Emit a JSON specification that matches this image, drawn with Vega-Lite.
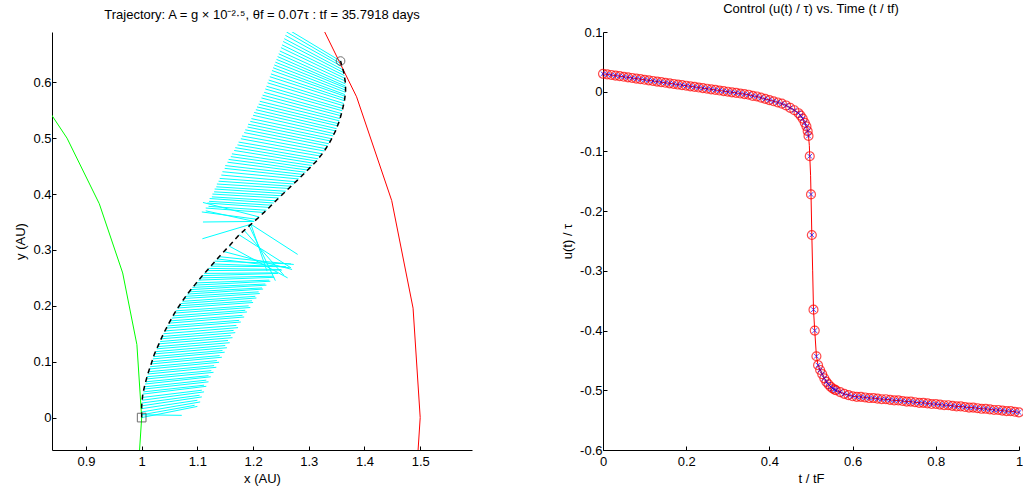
{
  "$schema": "https://vega.github.io/schema/vega-lite/v6.json",
  "padding": {"left": 14, "top": 3, "right": 2, "bottom": 5},
  "spacing": 131,
  "bounds": "flush",
  "datasets": {
    "orbits": [
      {"s": "earth", "i": 0, "x": 0.7071, "y": 0.7071},
      {"s": "earth", "i": 1, "x": 0.7934, "y": 0.6088},
      {"s": "earth", "i": 2, "x": 0.866, "y": 0.5},
      {"s": "earth", "i": 3, "x": 0.9239, "y": 0.3827},
      {"s": "earth", "i": 4, "x": 0.9659, "y": 0.2588},
      {"s": "earth", "i": 5, "x": 0.9914, "y": 0.1305},
      {"s": "earth", "i": 6, "x": 1.0, "y": 0.0},
      {"s": "earth", "i": 7, "x": 0.9914, "y": -0.1305},
      {"s": "mars", "i": 0, "x": 1.1901, "y": 0.9132},
      {"s": "mars", "i": 1, "x": 1.299, "y": 0.75},
      {"s": "mars", "i": 2, "x": 1.3858, "y": 0.574},
      {"s": "mars", "i": 3, "x": 1.4489, "y": 0.3882},
      {"s": "mars", "i": 4, "x": 1.4872, "y": 0.1958},
      {"s": "mars", "i": 5, "x": 1.5, "y": 0.0},
      {"s": "mars", "i": 6, "x": 1.4872, "y": -0.1958}
    ],
    "traj": [
      {"i": 0, "x": 1.0, "y": 0.0},
      {"i": 1, "x": 1.0, "y": 0.021},
      {"i": 2, "x": 1.002, "y": 0.042},
      {"i": 3, "x": 1.006, "y": 0.06},
      {"i": 4, "x": 1.011, "y": 0.078},
      {"i": 5, "x": 1.017, "y": 0.096},
      {"i": 6, "x": 1.023, "y": 0.114},
      {"i": 7, "x": 1.031, "y": 0.132},
      {"i": 8, "x": 1.039, "y": 0.15},
      {"i": 9, "x": 1.049, "y": 0.169},
      {"i": 10, "x": 1.059, "y": 0.187},
      {"i": 11, "x": 1.07, "y": 0.204},
      {"i": 12, "x": 1.082, "y": 0.221},
      {"i": 13, "x": 1.095, "y": 0.237},
      {"i": 14, "x": 1.109, "y": 0.254},
      {"i": 15, "x": 1.124, "y": 0.271},
      {"i": 16, "x": 1.139, "y": 0.288},
      {"i": 17, "x": 1.157, "y": 0.307},
      {"i": 18, "x": 1.175, "y": 0.327},
      {"i": 19, "x": 1.193, "y": 0.343},
      {"i": 20, "x": 1.211, "y": 0.359},
      {"i": 21, "x": 1.229, "y": 0.376},
      {"i": 22, "x": 1.246, "y": 0.393},
      {"i": 23, "x": 1.264, "y": 0.41},
      {"i": 24, "x": 1.282, "y": 0.427},
      {"i": 25, "x": 1.298, "y": 0.443},
      {"i": 26, "x": 1.314, "y": 0.459},
      {"i": 27, "x": 1.328, "y": 0.477},
      {"i": 28, "x": 1.339, "y": 0.495},
      {"i": 29, "x": 1.348, "y": 0.513},
      {"i": 30, "x": 1.355, "y": 0.531},
      {"i": 31, "x": 1.36, "y": 0.549},
      {"i": 32, "x": 1.364, "y": 0.567},
      {"i": 33, "x": 1.366, "y": 0.582},
      {"i": 34, "x": 1.366, "y": 0.597},
      {"i": 35, "x": 1.363, "y": 0.617},
      {"i": 36, "x": 1.357, "y": 0.638}
    ],
    "arrows": [
      {"x": 1.0, "y": 0.005, "x2": 1.072, "y2": 0.004},
      {"x": 1.0, "y": 0.0, "x2": 1.1, "y2": 0.02},
      {"x": 1.0, "y": 0.005, "x2": 1.095, "y2": 0.022},
      {"x": 1.0, "y": 0.01, "x2": 1.105, "y2": 0.028},
      {"x": 1.0, "y": 0.016, "x2": 1.1, "y2": 0.031},
      {"x": 1.0, "y": 0.021, "x2": 1.108, "y2": 0.037},
      {"x": 1.0, "y": 0.026, "x2": 1.104, "y2": 0.04},
      {"x": 1.001, "y": 0.031, "x2": 1.112, "y2": 0.046},
      {"x": 1.001, "y": 0.036, "x2": 1.108, "y2": 0.049},
      {"x": 1.002, "y": 0.042, "x2": 1.116, "y2": 0.056},
      {"x": 1.003, "y": 0.046, "x2": 1.112, "y2": 0.058},
      {"x": 1.004, "y": 0.051, "x2": 1.12, "y2": 0.064},
      {"x": 1.005, "y": 0.055, "x2": 1.116, "y2": 0.067},
      {"x": 1.006, "y": 0.06, "x2": 1.124, "y2": 0.073},
      {"x": 1.007, "y": 0.064, "x2": 1.12, "y2": 0.075},
      {"x": 1.008, "y": 0.069, "x2": 1.129, "y2": 0.081},
      {"x": 1.009, "y": 0.073, "x2": 1.125, "y2": 0.084},
      {"x": 1.011, "y": 0.078, "x2": 1.134, "y2": 0.09},
      {"x": 1.012, "y": 0.082, "x2": 1.13, "y2": 0.093},
      {"x": 1.014, "y": 0.087, "x2": 1.139, "y2": 0.099},
      {"x": 1.015, "y": 0.091, "x2": 1.135, "y2": 0.102},
      {"x": 1.017, "y": 0.096, "x2": 1.144, "y2": 0.108},
      {"x": 1.018, "y": 0.1, "x2": 1.14, "y2": 0.111},
      {"x": 1.02, "y": 0.105, "x2": 1.149, "y2": 0.117},
      {"x": 1.021, "y": 0.109, "x2": 1.145, "y2": 0.12},
      {"x": 1.023, "y": 0.114, "x2": 1.153, "y2": 0.125},
      {"x": 1.025, "y": 0.118, "x2": 1.15, "y2": 0.129},
      {"x": 1.027, "y": 0.123, "x2": 1.158, "y2": 0.134},
      {"x": 1.029, "y": 0.127, "x2": 1.155, "y2": 0.138},
      {"x": 1.031, "y": 0.132, "x2": 1.163, "y2": 0.143},
      {"x": 1.033, "y": 0.136, "x2": 1.16, "y2": 0.147},
      {"x": 1.035, "y": 0.141, "x2": 1.168, "y2": 0.152},
      {"x": 1.037, "y": 0.145, "x2": 1.165, "y2": 0.156},
      {"x": 1.039, "y": 0.15, "x2": 1.173, "y2": 0.161},
      {"x": 1.041, "y": 0.155, "x2": 1.17, "y2": 0.165},
      {"x": 1.044, "y": 0.16, "x2": 1.178, "y2": 0.171},
      {"x": 1.046, "y": 0.164, "x2": 1.175, "y2": 0.174},
      {"x": 1.049, "y": 0.169, "x2": 1.184, "y2": 0.18},
      {"x": 1.051, "y": 0.173, "x2": 1.181, "y2": 0.183},
      {"x": 1.054, "y": 0.178, "x2": 1.189, "y2": 0.189},
      {"x": 1.056, "y": 0.182, "x2": 1.186, "y2": 0.192},
      {"x": 1.059, "y": 0.187, "x2": 1.195, "y2": 0.197},
      {"x": 1.061, "y": 0.191, "x2": 1.192, "y2": 0.2},
      {"x": 1.064, "y": 0.196, "x2": 1.2, "y2": 0.206},
      {"x": 1.067, "y": 0.2, "x2": 1.198, "y2": 0.209},
      {"x": 1.07, "y": 0.204, "x2": 1.206, "y2": 0.214},
      {"x": 1.073, "y": 0.208, "x2": 1.204, "y2": 0.217},
      {"x": 1.076, "y": 0.213, "x2": 1.212, "y2": 0.222},
      {"x": 1.079, "y": 0.217, "x2": 1.21, "y2": 0.225},
      {"x": 1.082, "y": 0.221, "x2": 1.218, "y2": 0.23},
      {"x": 1.085, "y": 0.225, "x2": 1.216, "y2": 0.232},
      {"x": 1.088, "y": 0.229, "x2": 1.224, "y2": 0.237},
      {"x": 1.091, "y": 0.233, "x2": 1.222, "y2": 0.239},
      {"x": 1.095, "y": 0.237, "x2": 1.231, "y2": 0.244},
      {"x": 1.098, "y": 0.241, "x2": 1.229, "y2": 0.246},
      {"x": 1.102, "y": 0.246, "x2": 1.238, "y2": 0.251},
      {"x": 1.105, "y": 0.25, "x2": 1.236, "y2": 0.253},
      {"x": 1.109, "y": 0.254, "x2": 1.245, "y2": 0.258},
      {"x": 1.112, "y": 0.258, "x2": 1.243, "y2": 0.259},
      {"x": 1.116, "y": 0.263, "x2": 1.252, "y2": 0.264},
      {"x": 1.12, "y": 0.267, "x2": 1.25, "y2": 0.265},
      {"x": 1.124, "y": 0.271, "x2": 1.259, "y2": 0.27},
      {"x": 1.127, "y": 0.275, "x2": 1.258, "y2": 0.27},
      {"x": 1.131, "y": 0.28, "x2": 1.268, "y2": 0.275},
      {"x": 1.135, "y": 0.284, "x2": 1.266, "y2": 0.268},
      {"x": 1.139, "y": 0.288, "x2": 1.273, "y2": 0.274},
      {"x": 1.148, "y": 0.297, "x2": 1.27, "y2": 0.265},
      {"x": 1.157, "y": 0.307, "x2": 1.262, "y2": 0.25},
      {"x": 1.175, "y": 0.327, "x2": 1.268, "y2": 0.268},
      {"x": 1.184, "y": 0.335, "x2": 1.255, "y2": 0.255},
      {"x": 1.193, "y": 0.343, "x2": 1.24, "y2": 0.245},
      {"x": 1.196, "y": 0.346, "x2": 1.28, "y2": 0.292},
      {"x": 1.196, "y": 0.346, "x2": 1.225, "y2": 0.262},
      {"x": 1.196, "y": 0.346, "x2": 1.109, "y2": 0.32},
      {"x": 1.202, "y": 0.351, "x2": 1.11, "y2": 0.35},
      {"x": 1.202, "y": 0.351, "x2": 1.115, "y2": 0.37},
      {"x": 1.206, "y": 0.355, "x2": 1.108, "y2": 0.368},
      {"x": 1.211, "y": 0.359, "x2": 1.11, "y2": 0.385},
      {"x": 1.22, "y": 0.367, "x2": 1.115, "y2": 0.375},
      {"x": 1.224, "y": 0.371, "x2": 1.12, "y2": 0.378},
      {"x": 1.229, "y": 0.376, "x2": 1.118, "y2": 0.384},
      {"x": 1.233, "y": 0.38, "x2": 1.121, "y2": 0.387},
      {"x": 1.237, "y": 0.384, "x2": 1.122, "y2": 0.392},
      {"x": 1.241, "y": 0.388, "x2": 1.126, "y2": 0.395},
      {"x": 1.246, "y": 0.393, "x2": 1.127, "y2": 0.4},
      {"x": 1.25, "y": 0.397, "x2": 1.13, "y2": 0.404},
      {"x": 1.255, "y": 0.401, "x2": 1.131, "y2": 0.409},
      {"x": 1.259, "y": 0.405, "x2": 1.134, "y2": 0.413},
      {"x": 1.264, "y": 0.41, "x2": 1.135, "y2": 0.418},
      {"x": 1.268, "y": 0.414, "x2": 1.138, "y2": 0.423},
      {"x": 1.273, "y": 0.418, "x2": 1.14, "y2": 0.428},
      {"x": 1.277, "y": 0.422, "x2": 1.143, "y2": 0.434},
      {"x": 1.282, "y": 0.427, "x2": 1.145, "y2": 0.44},
      {"x": 1.286, "y": 0.431, "x2": 1.149, "y2": 0.446},
      {"x": 1.29, "y": 0.435, "x2": 1.15, "y2": 0.451},
      {"x": 1.294, "y": 0.439, "x2": 1.154, "y2": 0.457},
      {"x": 1.298, "y": 0.443, "x2": 1.156, "y2": 0.462},
      {"x": 1.302, "y": 0.447, "x2": 1.16, "y2": 0.467},
      {"x": 1.306, "y": 0.451, "x2": 1.162, "y2": 0.472},
      {"x": 1.31, "y": 0.455, "x2": 1.166, "y2": 0.478},
      {"x": 1.314, "y": 0.459, "x2": 1.168, "y2": 0.483},
      {"x": 1.317, "y": 0.463, "x2": 1.172, "y2": 0.488},
      {"x": 1.321, "y": 0.468, "x2": 1.174, "y2": 0.493},
      {"x": 1.324, "y": 0.472, "x2": 1.178, "y2": 0.499},
      {"x": 1.328, "y": 0.477, "x2": 1.18, "y2": 0.504},
      {"x": 1.331, "y": 0.481, "x2": 1.184, "y2": 0.51},
      {"x": 1.334, "y": 0.486, "x2": 1.186, "y2": 0.515},
      {"x": 1.336, "y": 0.49, "x2": 1.19, "y2": 0.52},
      {"x": 1.339, "y": 0.495, "x2": 1.191, "y2": 0.525},
      {"x": 1.341, "y": 0.499, "x2": 1.195, "y2": 0.53},
      {"x": 1.344, "y": 0.504, "x2": 1.197, "y2": 0.535},
      {"x": 1.346, "y": 0.508, "x2": 1.2, "y2": 0.541},
      {"x": 1.348, "y": 0.513, "x2": 1.202, "y2": 0.546},
      {"x": 1.35, "y": 0.517, "x2": 1.205, "y2": 0.551},
      {"x": 1.352, "y": 0.522, "x2": 1.207, "y2": 0.556},
      {"x": 1.353, "y": 0.526, "x2": 1.21, "y2": 0.561},
      {"x": 1.355, "y": 0.531, "x2": 1.212, "y2": 0.566},
      {"x": 1.356, "y": 0.535, "x2": 1.215, "y2": 0.572},
      {"x": 1.358, "y": 0.54, "x2": 1.217, "y2": 0.577},
      {"x": 1.359, "y": 0.544, "x2": 1.22, "y2": 0.582},
      {"x": 1.36, "y": 0.549, "x2": 1.222, "y2": 0.588},
      {"x": 1.361, "y": 0.553, "x2": 1.224, "y2": 0.593},
      {"x": 1.362, "y": 0.558, "x2": 1.226, "y2": 0.599},
      {"x": 1.363, "y": 0.562, "x2": 1.228, "y2": 0.604},
      {"x": 1.364, "y": 0.567, "x2": 1.23, "y2": 0.61},
      {"x": 1.364, "y": 0.571, "x2": 1.232, "y2": 0.615},
      {"x": 1.365, "y": 0.575, "x2": 1.234, "y2": 0.621},
      {"x": 1.365, "y": 0.578, "x2": 1.236, "y2": 0.626},
      {"x": 1.366, "y": 0.582, "x2": 1.238, "y2": 0.631},
      {"x": 1.366, "y": 0.586, "x2": 1.24, "y2": 0.636},
      {"x": 1.366, "y": 0.59, "x2": 1.242, "y2": 0.641},
      {"x": 1.366, "y": 0.593, "x2": 1.244, "y2": 0.646},
      {"x": 1.366, "y": 0.597, "x2": 1.246, "y2": 0.651},
      {"x": 1.366, "y": 0.602, "x2": 1.248, "y2": 0.656},
      {"x": 1.365, "y": 0.607, "x2": 1.25, "y2": 0.662},
      {"x": 1.364, "y": 0.612, "x2": 1.252, "y2": 0.667},
      {"x": 1.363, "y": 0.617, "x2": 1.254, "y2": 0.673},
      {"x": 1.362, "y": 0.622, "x2": 1.256, "y2": 0.678},
      {"x": 1.36, "y": 0.628, "x2": 1.258, "y2": 0.684},
      {"x": 1.358, "y": 0.633, "x2": 1.26, "y2": 0.69},
      {"x": 1.357, "y": 0.638, "x2": 1.262, "y2": 0.695}
    ],
    "ends": [
      {"kind": "start", "x": 1.0, "y": 0.0},
      {"kind": "end", "x": 1.357, "y": 0.638}
    ],
    "control": [
      {"t": 0.0, "u": 0.03, "m": 1}, {"t": 0.01, "u": 0.029, "m": 1}, {"t": 0.02, "u": 0.028, "m": 1},
      {"t": 0.03, "u": 0.027, "m": 1}, {"t": 0.04, "u": 0.026, "m": 1}, {"t": 0.05, "u": 0.025, "m": 1},
      {"t": 0.06, "u": 0.024, "m": 1}, {"t": 0.07, "u": 0.023, "m": 1}, {"t": 0.08, "u": 0.022, "m": 1},
      {"t": 0.09, "u": 0.021, "m": 1}, {"t": 0.1, "u": 0.02, "m": 1}, {"t": 0.11, "u": 0.019, "m": 1},
      {"t": 0.12, "u": 0.018, "m": 1}, {"t": 0.13, "u": 0.017, "m": 1}, {"t": 0.14, "u": 0.016, "m": 1},
      {"t": 0.15, "u": 0.015, "m": 1}, {"t": 0.16, "u": 0.014, "m": 1}, {"t": 0.17, "u": 0.013, "m": 1},
      {"t": 0.18, "u": 0.012, "m": 1}, {"t": 0.19, "u": 0.011, "m": 1}, {"t": 0.2, "u": 0.01, "m": 1},
      {"t": 0.21, "u": 0.009, "m": 1}, {"t": 0.22, "u": 0.008, "m": 1}, {"t": 0.23, "u": 0.007, "m": 1},
      {"t": 0.24, "u": 0.006, "m": 1}, {"t": 0.25, "u": 0.005, "m": 1}, {"t": 0.26, "u": 0.004, "m": 1},
      {"t": 0.27, "u": 0.003, "m": 1}, {"t": 0.28, "u": 0.002, "m": 1}, {"t": 0.29, "u": 0.001, "m": 1},
      {"t": 0.3, "u": 0.0, "m": 1}, {"t": 0.31, "u": -0.001, "m": 1}, {"t": 0.32, "u": -0.002, "m": 1},
      {"t": 0.33, "u": -0.003, "m": 1}, {"t": 0.34, "u": -0.004, "m": 1}, {"t": 0.35, "u": -0.005, "m": 1},
      {"t": 0.36, "u": -0.007, "m": 1}, {"t": 0.37, "u": -0.008, "m": 1}, {"t": 0.38, "u": -0.01, "m": 1},
      {"t": 0.39, "u": -0.012, "m": 1}, {"t": 0.4, "u": -0.014, "m": 1}, {"t": 0.41, "u": -0.016, "m": 1},
      {"t": 0.42, "u": -0.018, "m": 1}, {"t": 0.43, "u": -0.02, "m": 1}, {"t": 0.44, "u": -0.023, "m": 1},
      {"t": 0.45, "u": -0.027, "m": 1}, {"t": 0.46, "u": -0.031, "m": 1}, {"t": 0.47, "u": -0.036, "m": 1},
      {"t": 0.475, "u": -0.04, "m": 1}, {"t": 0.48, "u": -0.045, "m": 1}, {"t": 0.485, "u": -0.052, "m": 1},
      {"t": 0.489, "u": -0.058, "m": 1}, {"t": 0.492, "u": -0.066, "m": 1}, {"t": 0.494, "u": -0.074, "m": 1},
      {"t": 0.496, "u": -0.09, "m": 0}, {"t": 0.497, "u": -0.108, "m": 1}, {"t": 0.499, "u": -0.14, "m": 0},
      {"t": 0.5, "u": -0.172, "m": 1}, {"t": 0.502, "u": -0.24, "m": 1}, {"t": 0.504, "u": -0.3, "m": 0},
      {"t": 0.506, "u": -0.365, "m": 1}, {"t": 0.509, "u": -0.4, "m": 1}, {"t": 0.513, "u": -0.443, "m": 1},
      {"t": 0.517, "u": -0.458, "m": 1}, {"t": 0.522, "u": -0.466, "m": 1}, {"t": 0.527, "u": -0.473, "m": 1},
      {"t": 0.532, "u": -0.48, "m": 1}, {"t": 0.537, "u": -0.486, "m": 1}, {"t": 0.542, "u": -0.49, "m": 1},
      {"t": 0.547, "u": -0.494, "m": 1}, {"t": 0.552, "u": -0.497, "m": 1}, {"t": 0.557, "u": -0.499, "m": 1},
      {"t": 0.56, "u": -0.5, "m": 1}, {"t": 0.57, "u": -0.503, "m": 1}, {"t": 0.58, "u": -0.506, "m": 1},
      {"t": 0.59, "u": -0.508, "m": 1}, {"t": 0.6, "u": -0.51, "m": 1}, {"t": 0.61, "u": -0.511, "m": 1},
      {"t": 0.62, "u": -0.511, "m": 1}, {"t": 0.63, "u": -0.512, "m": 1}, {"t": 0.64, "u": -0.513, "m": 1},
      {"t": 0.65, "u": -0.513, "m": 1}, {"t": 0.66, "u": -0.514, "m": 1}, {"t": 0.67, "u": -0.515, "m": 1},
      {"t": 0.68, "u": -0.515, "m": 1}, {"t": 0.69, "u": -0.516, "m": 1}, {"t": 0.7, "u": -0.517, "m": 1},
      {"t": 0.71, "u": -0.517, "m": 1}, {"t": 0.72, "u": -0.518, "m": 1}, {"t": 0.73, "u": -0.519, "m": 1},
      {"t": 0.74, "u": -0.519, "m": 1}, {"t": 0.75, "u": -0.52, "m": 1}, {"t": 0.76, "u": -0.521, "m": 1},
      {"t": 0.77, "u": -0.521, "m": 1}, {"t": 0.78, "u": -0.522, "m": 1}, {"t": 0.79, "u": -0.523, "m": 1},
      {"t": 0.8, "u": -0.523, "m": 1}, {"t": 0.81, "u": -0.524, "m": 1}, {"t": 0.82, "u": -0.525, "m": 1},
      {"t": 0.83, "u": -0.525, "m": 1}, {"t": 0.84, "u": -0.526, "m": 1}, {"t": 0.85, "u": -0.527, "m": 1},
      {"t": 0.86, "u": -0.527, "m": 1}, {"t": 0.87, "u": -0.528, "m": 1}, {"t": 0.88, "u": -0.529, "m": 1},
      {"t": 0.89, "u": -0.529, "m": 1}, {"t": 0.9, "u": -0.53, "m": 1}, {"t": 0.91, "u": -0.531, "m": 1},
      {"t": 0.92, "u": -0.531, "m": 1}, {"t": 0.93, "u": -0.532, "m": 1}, {"t": 0.94, "u": -0.533, "m": 1},
      {"t": 0.95, "u": -0.533, "m": 1}, {"t": 0.96, "u": -0.534, "m": 1}, {"t": 0.97, "u": -0.535, "m": 1},
      {"t": 0.98, "u": -0.535, "m": 1}, {"t": 0.99, "u": -0.536, "m": 1}, {"t": 1.0, "u": -0.537, "m": 1}
    ]
  },
  "hconcat": [
    {
      "width": 420,
      "height": 418,
      "title": {"text": "Trajectory: A = g × 10⁻²·⁵, θf = 0.07τ : tf = 35.7918 days"},
      "layer": [
        {
          "data": {"name": "arrows"},
          "mark": {"type": "rule", "color": "#00FFFF", "strokeWidth": 1, "clip": true},
          "encoding": {
            "x": {"field": "x", "type": "quantitative", "scale": {"domain": [0.839, 1.593], "nice": false, "zero": false},
                  "axis": {"title": "x (AU)", "values": [0.9, 1, 1.1, 1.2, 1.3, 1.4, 1.5], "format": "~g"}},
            "y": {"field": "y", "type": "quantitative", "scale": {"domain": [-0.058, 0.69], "nice": false, "zero": false},
                  "axis": {"title": "y (AU)", "values": [0, 0.1, 0.2, 0.3, 0.4, 0.5, 0.6], "format": "~g"}},
            "x2": {"field": "x2"},
            "y2": {"field": "y2"}
          }
        },
        {
          "data": {"name": "orbits"},
          "mark": {"type": "line", "strokeWidth": 1, "clip": true},
          "encoding": {
            "x": {"field": "x", "type": "quantitative"},
            "y": {"field": "y", "type": "quantitative"},
            "order": {"field": "i", "type": "quantitative"},
            "color": {"field": "s", "type": "nominal", "scale": {"domain": ["earth", "mars"], "range": ["#00FF00", "#FF0000"]}, "legend": null}
          }
        },
        {
          "data": {"name": "traj"},
          "mark": {"type": "line", "color": "#000000", "strokeWidth": 1.5, "strokeDash": [5, 4], "clip": true},
          "encoding": {
            "x": {"field": "x", "type": "quantitative"},
            "y": {"field": "y", "type": "quantitative"},
            "order": {"field": "i", "type": "quantitative"}
          }
        },
        {
          "data": {"name": "ends"},
          "mark": {"type": "point", "filled": false, "color": "#333333", "strokeWidth": 1, "size": 75},
          "encoding": {
            "x": {"field": "x", "type": "quantitative"},
            "y": {"field": "y", "type": "quantitative"},
            "shape": {"field": "kind", "type": "nominal", "scale": {"domain": ["start", "end"], "range": ["square", "circle"]}, "legend": null}
          }
        }
      ]
    },
    {
      "width": 416,
      "height": 418,
      "title": {"text": "Control (u(t) / τ) vs. Time (t / tf)"},
      "data": {"name": "control"},
      "layer": [
        {
          "mark": {"type": "line", "color": "#FF0000", "strokeWidth": 1},
          "encoding": {
            "x": {"field": "t", "type": "quantitative", "scale": {"domain": [0, 1], "nice": false},
                  "axis": {"title": "t / tF", "values": [0, 0.2, 0.4, 0.6, 0.8, 1], "format": "~g"}},
            "y": {"field": "u", "type": "quantitative", "scale": {"domain": [-0.6, 0.1], "nice": false, "zero": false},
                  "axis": {"title": "u(t) / τ", "values": [-0.6, -0.5, -0.4, -0.3, -0.2, -0.1, 0, 0.1],
                           "labelExpr": "replace(format(datum.value, '~g'), '−', '-')"}}
          }
        },
        {
          "transform": [{"filter": "datum.m == 1"}],
          "mark": {"type": "point", "filled": false, "color": "#FF0000", "strokeWidth": 1.2, "size": 80},
          "encoding": {
            "x": {"field": "t", "type": "quantitative"},
            "y": {"field": "u", "type": "quantitative"}
          }
        },
        {
          "transform": [{"filter": "datum.m == 1"}],
          "mark": {"type": "point", "filled": false, "color": "#0000FF", "strokeWidth": 1, "size": 22, "shape": "M-1,-1L1,1M-1,1L1,-1"},
          "encoding": {
            "x": {"field": "t", "type": "quantitative"},
            "y": {"field": "u", "type": "quantitative"}
          }
        }
      ]
    }
  ],
  "config": {
    "view": {"stroke": null},
    "font": "Liberation Sans",
    "axis": {
      "grid": false,
      "domainColor": "#000000",
      "tickColor": "#000000",
      "labelColor": "#000000",
      "titleColor": "#000000",
      "labelFont": "Liberation Sans",
      "titleFont": "Liberation Sans",
      "labelFontSize": 13,
      "titleFontSize": 13,
      "titleFontWeight": "normal",
      "tickSize": -4,
      "labelPadding": 5,
      "titlePadding": 5,
      "labelFlush": false,
      "labelOverlap": false
    },
    "axisX": {"labelPadding": 9, "titlePadding": 4},
    "title": {"fontSize": 13, "fontWeight": "normal", "font": "Liberation Sans", "color": "#000000", "offset": 10, "anchor": "middle"}
  }
}
